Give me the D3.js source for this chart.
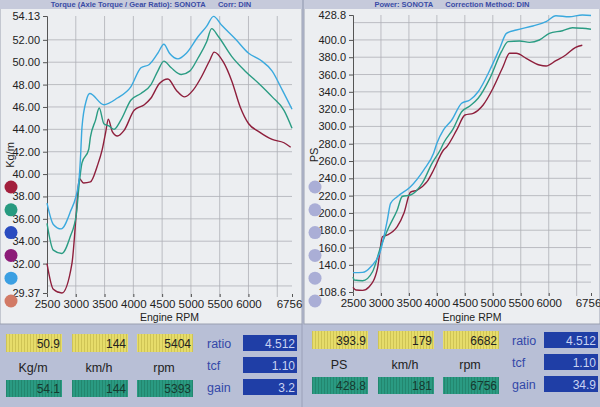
<!DOCTYPE html>
<html>
<head>
<meta charset="utf-8">
<script src="https://cdn.jsdelivr.net/npm/d3@7"></script>
<style>
  body { margin: 0; background: #b8bfd6; }
  svg { display: block; font-family: "Liberation Sans", Arial, sans-serif; }
</style>
</head>
<body>
<svg class="chart" width="600" height="407"></svg>
<script>
// rpm / value pairs
var torqueRed = [[2500,32.0],[2610,29.7],[2758,29.37],[2933,32.0],[3009,36.5],[3061,39.6],[3137,39.2],[3254,39.3],[3372,40.7],[3460,42.2],[3518,43.7],[3565,44.9],[3634,43.8],[3723,43.4],[3839,43.9],[4014,45.7],[4190,46.2],[4307,46.8],[4453,48.1],[4600,48.5],[4746,47.5],[4892,46.9],[5038,47.5],[5184,48.7],[5330,50.2],[5404,50.9],[5565,50.0],[5711,48.3],[5856,46.0],[6003,44.5],[6179,43.8],[6412,43.1],[6617,42.8],[6733,42.4]];
var torqueTeal = [[2500,35.6],[2610,33.2],[2758,32.9],[2903,34.4],[3009,36.4],[3061,39.2],[3108,41.0],[3224,42.2],[3254,43.3],[3342,44.8],[3407,45.9],[3488,44.5],[3575,44.3],[3663,44.0],[3780,44.8],[3956,46.6],[4132,47.2],[4307,48.0],[4424,49.2],[4530,50.1],[4658,49.5],[4833,48.9],[4979,49.2],[5126,50.4],[5272,51.8],[5360,53.0],[5477,52.3],[5711,50.5],[5944,49.2],[6179,48.1],[6412,46.9],[6617,45.7],[6756,44.1]];
var torqueBlue = [[2500,37.4],[2610,35.5],[2745,35.1],[2903,36.6],[3050,39.2],[3080,41.3],[3108,44.2],[3184,46.6],[3242,47.2],[3488,46.2],[3723,46.8],[3956,47.8],[4132,49.5],[4277,49.8],[4424,50.8],[4530,51.6],[4628,50.8],[4775,50.3],[4921,50.8],[5126,52.3],[5272,53.2],[5393,54.1],[5535,53.3],[5769,52.1],[6003,50.8],[6207,50.2],[6412,49.2],[6588,47.5],[6756,45.8]];

var powerRed = [[2500,114],[2553,110.9],[2672,110.5],[2790,114.7],[2938,136],[3027,172.5],[3114,174.5],[3291,184.1],[3410,199.5],[3528,224],[3647,226.5],[3824,236.1],[3941,249.6],[4118,272.7],[4177,276.5],[4355,295.9],[4502,313.2],[4650,315.2],[4827,324.8],[5004,344.1],[5182,369],[5300,384.5],[5420,384.5],[5597,378.7],[5833,371],[5952,369.8],[6129,376],[6305,382.6],[6482,391.5],[6600,393.9]];
var powerTeal = [[2500,126],[2523,122.4],[2672,121.6],[2849,132],[2996,160.9],[3144,184],[3291,203.4],[3380,219],[3528,220.7],[3736,234.2],[3913,257.3],[4060,272.7],[4118,280.5],[4296,297.8],[4443,317],[4590,323.6],[4738,332.5],[4947,355.6],[5154,386.4],[5272,398],[5479,398.7],[5656,397.2],[5833,399.9],[6011,407.6],[6247,410.6],[6424,414.1],[6601,413.4],[6756,412.3]];
var powerBlue = [[2500,131],[2672,131.3],[2819,137.8],[2996,157.1],[3114,191.8],[3172,211],[3291,218.7],[3528,230.3],[3764,249.6],[3941,268.9],[4000,280.5],[4118,295.9],[4266,307.4],[4443,326.7],[4590,330.5],[4738,340.1],[4947,365.2],[5124,390.3],[5243,407.6],[5420,411.5],[5716,416.1],[5952,421.1],[6129,428],[6365,426.8],[6601,428.8],[6756,428.3]];

var rpmTicks = [2500, 3000, 3500, 4000, 4500, 5000, 5500, 6000, 6756];
var rpmGrid = [3000, 3500, 4000, 4500, 5000, 5500, 6000, 6500];
var torqueTicks = [29.37, 32, 34, 36, 38, 40, 42, 44, 46, 48, 50, 52, 54.13];
var torqueGrid = [30, 32, 34, 36, 38, 40, 42, 44, 46, 48, 50, 52];
var powerTicks = [108.6, 140, 160, 180, 200, 220, 240, 260, 280, 300, 320, 340, 360, 380, 400, 428.8];
var powerGrid = [120, 140, 160, 180, 200, 220, 240, 260, 280, 300, 320, 340, 360, 380, 400, 420];

var legendLeft = ["#a31f3d", "#279a80", "#2a4cc0", "#8c1b78", "#3b9fe2", "#d27a66"];
var lineColors = ["#8e1f3c", "#2a9c83", "#3aa9de"];

var torqueReadTop = ["50.9", "144", "5404"];
var torqueReadBot = ["54.1", "144", "5393"];
var torqueUnits = ["Kg/m", "km/h", "rpm"];
var torqueFactors = ["4.512", "1.10", "3.2"];
var powerReadTop = ["393.9", "179", "6682"];
var powerReadBot = ["428.8", "181", "6756"];
var powerUnits = ["PS", "km/h", "rpm"];
var powerFactors = ["4.512", "1.10", "34.9"];
var factorNames = ["ratio", "tcf", "gain"];

var svg = d3.select(".chart");

// stripe patterns for the readout boxes
var defs = svg.append("defs");
var pat = defs.append("pattern").attr("id", "yel").attr("width", 3).attr("height", 4).attr("patternUnits", "userSpaceOnUse");
pat.append("rect").attr("width", 3).attr("height", 4).attr("fill", "#e6dc6a");
pat.append("rect").attr("width", 1).attr("height", 4).attr("fill", "#cfc455");
var pat2 = defs.append("pattern").attr("id", "grn").attr("width", 3).attr("height", 4).attr("patternUnits", "userSpaceOnUse");
pat2.append("rect").attr("width", 3).attr("height", 4).attr("fill", "#2a9a82");
pat2.append("rect").attr("width", 1).attr("height", 4).attr("fill", "#23876f");

svg.append("rect").attr("width", 600).attr("height", 407).attr("fill", "#b8bfd6");

function panel(opt) {
  var g = svg.append("g");
  g.append("rect").attr("x", opt.px).attr("y", 0).attr("width", opt.pw).attr("height", 324)
    .attr("fill", "#eceef1").attr("stroke", "#9aa0b0");
  g.append("rect").attr("x", opt.px).attr("y", 0).attr("width", opt.pw).attr("height", 9)
    .attr("fill", "#c6cadb");
  g.append("text").attr("x", opt.px + opt.pw / 2).attr("y", 7).attr("text-anchor", "middle")
    .style("font-size", "7.5px").style("font-weight", "bold").style("fill", "#3a4ca6")
    .attr("xml:space", "preserve").text(opt.title);

  var x = d3.scaleLinear().domain([2500, 6756]).range(opt.xr);
  var y = d3.scaleLinear().domain(opt.yd).range(opt.yr);

  // grid
  g.selectAll(".vg").data(rpmGrid).enter().append("line")
    .attr("x1", function(d) { return x(d); }).attr("x2", function(d) { return x(d); })
    .attr("y1", opt.yr[1]).attr("y2", opt.yr[0] + 4)
    .attr("stroke", "#aeb0b6").attr("stroke-width", 0.8);
  g.selectAll(".hg").data(opt.grid).enter().append("line")
    .attr("x1", opt.xr[0]).attr("x2", opt.xr[1])
    .attr("y1", function(d) { return y(d); }).attr("y2", function(d) { return y(d); })
    .attr("stroke", "#aeb0b6").attr("stroke-width", 0.8);

  var ya = d3.axisLeft(y).tickValues(opt.ticks).tickSize(4).tickFormat(opt.fmt);
  var yg = g.append("g").attr("transform", "translate(" + opt.xr[0] + ",0)").call(ya);
  yg.select(".domain").attr("stroke", "#555");
  yg.selectAll("line").attr("stroke", "#555");
  yg.selectAll("text").style("font-size", "11px").style("fill", "#222");

  var xa = d3.axisBottom(x).tickValues(rpmTicks).tickSize(3).tickFormat(d3.format("d"));
  var xg = g.append("g").attr("transform", "translate(0," + (opt.yr[0] + 1) + ")").call(xa);
  xg.select(".domain").remove();
  xg.selectAll("line").attr("stroke", "#555");
  xg.selectAll("text").style("font-size", "11.5px").style("fill", "#222");
  xg.selectAll("text").filter(function(d) { return d === 6756; }).attr("x", -3);

  g.append("text").attr("x", (opt.xr[0] + opt.xr[1]) / 2).attr("y", 321)
    .attr("text-anchor", "middle").style("font-size", "10.5px").style("fill", "#222").text("Engine RPM");
  g.append("text").attr("transform", "translate(" + (opt.px + 14) + ",155) rotate(-90)")
    .attr("text-anchor", "middle").style("font-size", "11px").style("fill", "#222").text(opt.unit);

  var line = d3.line().x(function(d) { return x(d[0]); }).y(function(d) { return y(d[1]); })
    .curve(d3.curveMonotoneX);
  g.selectAll(".curve").data(opt.series).enter().append("path")
    .attr("d", function(d) { return line(d); })
    .attr("fill", "none").attr("stroke-width", 1.4)
    .attr("stroke", function(d, i) { return lineColors[i]; });

  g.selectAll(".dot").data(opt.legend).enter().append("circle")
    .attr("cx", opt.px + 11).attr("cy", function(d, i) { return 187 + i * 22.8; })
    .attr("r", 6.5).attr("fill", function(d) { return d; });
}

panel({ px: 0, pw: 302, title: "Torque (Axle Torque / Gear Ratio): SONOTA      Corr: DIN",
  xr: [47, 292], yd: [29.37, 54.13], yr: [293, 16], ticks: torqueTicks, grid: torqueGrid,
  fmt: d3.format(".2f"), unit: "Kg/m", series: [torqueRed, torqueTeal, torqueBlue], legend: legendLeft });
panel({ px: 304, pw: 296, title: "Power: SONOTA      Correction Method: DIN",
  xr: [353, 591], yd: [108.6, 428.8], yr: [292, 15], ticks: powerTicks, grid: powerGrid,
  fmt: d3.format(".1f"), unit: "PS", series: [powerRed, powerTeal, powerBlue],
  legend: d3.range(6).map(function() { return "#aaaed6"; }) });

// readout strip
function readout(ox, oy, top, bot, units, factors, fx, bx) {
  var g = svg.append("g");
  var bxs = [0, 66, 131];
  g.selectAll(".yt").data(top).enter().append("rect")
    .attr("x", function(d, i) { return ox + bxs[i]; }).attr("y", oy).attr("width", 56).attr("height", 18)
    .attr("fill", "url(#yel)");
  g.selectAll(".ytt").data(top).enter().append("text")
    .attr("x", function(d, i) { return ox + bxs[i] + 54; }).attr("y", oy + 14).attr("text-anchor", "end")
    .style("font-size", "12px").style("fill", "#222").text(function(d) { return d; });
  g.selectAll(".un").data(units).enter().append("text")
    .attr("x", function(d, i) { return ox + bxs[i] + 27; }).attr("y", oy + 38).attr("text-anchor", "middle")
    .style("font-size", "12.5px").style("fill", "#222").text(function(d) { return d; });
  g.selectAll(".gb").data(bot).enter().append("rect")
    .attr("x", function(d, i) { return ox + bxs[i]; }).attr("y", oy + 46).attr("width", 56).attr("height", 17)
    .attr("fill", "url(#grn)");
  g.selectAll(".gbt").data(bot).enter().append("text")
    .attr("x", function(d, i) { return ox + bxs[i] + 54; }).attr("y", oy + 59).attr("text-anchor", "end")
    .style("font-size", "12px").style("fill", "#163a30").text(function(d) { return d; });
  g.selectAll(".fn").data(factorNames).enter().append("text")
    .attr("x", fx).attr("y", function(d, i) { return oy + 14 + i * 22; })
    .style("font-size", "12.5px").style("fill", "#3348a8").text(function(d) { return d; });
  g.selectAll(".fb").data(factors).enter().append("rect")
    .attr("x", bx).attr("y", function(d, i) { return oy + 1 + i * 22; }).attr("width", 54).attr("height", 16)
    .attr("fill", "#1f3ea6");
  g.selectAll(".fbt").data(factors).enter().append("text")
    .attr("x", bx + 52).attr("y", function(d, i) { return oy + 14 + i * 22; }).attr("text-anchor", "end")
    .style("font-size", "12px").style("fill", "#c9d3f2").text(function(d) { return d; });
}
svg.append("line").attr("x1", 302).attr("x2", 302).attr("y1", 324).attr("y2", 407).attr("stroke", "#9aa0b8");
readout(6, 334, torqueReadTop, torqueReadBot, torqueUnits, torqueFactors, 207, 243);
readout(312, 331, powerReadTop, powerReadBot, powerUnits, powerFactors, 512, 544);
</script>
</body>
</html>
